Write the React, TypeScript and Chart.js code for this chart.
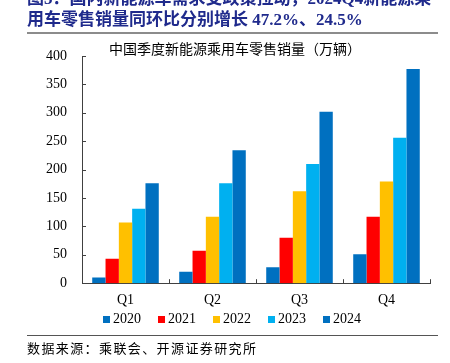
import React, { useEffect, useRef } from "react";
import { Chart, registerables } from "chart.js";

Chart.register(...registerables);

const quarters = ["Q1", "Q2", "Q3", "Q4"];
const years = ["2020", "2021", "2022", "2023", "2024"];
const sales2020 = [10, 20, 28, 51];
const sales2021 = [43, 57, 80, 117];
const sales2022 = [107, 117, 162, 179];
const sales2023 = [131, 176, 210, 256];
const sales2024 = [176, 234, 302, 377];
const seriesColors = ["#0070C0", "#FF0000", "#FFC000", "#00B0F0", "#0070C0"];
const yMin = 0;
const yMax = 400;
const yStep = 50;

const headingLine1 = "图3：国内新能源车需求受政策拉动，2024Q4新能源乘";
const headingLine2 = "用车零售销量同环比分别增长 47.2%、24.5%";
const chartTitle = "中国季度新能源乘用车零售销量（万辆）";
const sourceText = "数据来源：乘联会、开源证券研究所";

const SERIF = "'Liberation Serif', 'Times New Roman', serif";
const MIXED = "'Liberation Serif', 'Noto Sans CJK SC', sans-serif";
const NAVY = "#1f2a8c";

const innerTicks = {
  id: "innerTicks",
  afterDraw(chart: any) {
    const { ctx, chartArea, scales } = chart;
    const xs = scales.x;
    const ys = scales.y;
    ctx.save();
    ctx.strokeStyle = "#404040";
    ctx.lineWidth = 1;
    ctx.beginPath();
    ys.ticks.forEach((t: any) => {
      const py = Math.round(ys.getPixelForValue(t.value)) + 0.5;
      ctx.moveTo(chartArea.left, py);
      ctx.lineTo(chartArea.left + 4, py);
    });
    const n = xs.ticks.length;
    for (let i = 1; i <= n; i++) {
      const px = Math.round(xs.getPixelForValue(i - 0.5)) + 0.5;
      ctx.moveTo(px, chartArea.bottom);
      ctx.lineTo(px, chartArea.bottom - 4);
    }
    ctx.stroke();
    ctx.restore();
  },
};

export default function App() {
  const canvasRef = useRef<HTMLCanvasElement | null>(null);

  useEffect(() => {
    const seriesValues = [sales2020, sales2021, sales2022, sales2023, sales2024];
    const chart = new Chart(canvasRef.current as HTMLCanvasElement, {
      type: "bar",
      data: {
        labels: quarters,
        datasets: years.map((y, i) => ({
          label: y,
          data: seriesValues[i],
          backgroundColor: seriesColors[i],
          borderWidth: 0,
          barPercentage: 1,
          categoryPercentage: 0.765,
        })),
      },
      options: {
        animation: false,
        responsive: false,
        maintainAspectRatio: false,
        layout: { padding: { left: 31, right: 20, top: 56, bottom: 3 } },
        plugins: {
          title: { display: false },
          tooltip: { enabled: false },
          legend: { display: false },
        },
        scales: {
          x: {
            offset: true,
            grid: { display: false, drawTicks: false },
            border: { display: true, color: "#404040", width: 1 },
            ticks: {
              color: "#000",
              padding: 9,
              font: { family: SERIF, size: 14 },
            },
          },
          y: {
            min: yMin,
            max: yMax,
            grid: { display: false, drawTicks: false },
            border: { display: true, color: "#404040", width: 1 },
            ticks: {
              stepSize: yStep,
              color: "#000",
              padding: 15,
              font: { family: SERIF, size: 14 },
            },
          },
        },
      },
      plugins: [innerTicks],
    } as any);
    return () => chart.destroy();
  }, []);

  return (
    <div
      style={{
        position: "fixed",
        left: 0,
        top: 0,
        width: 450,
        height: 363,
        overflow: "hidden",
        background: "#fff",
      }}
    >
      <canvas
        ref={canvasRef}
        width={450}
        height={321}
        style={{ position: "absolute", left: 0, top: 0, width: 450, height: 321 }}
      />
      <div
        style={{
          position: "absolute",
          left: 27,
          top: -12,
          whiteSpace: "nowrap",
          fontFamily: MIXED,
          fontWeight: 700,
          fontSize: 17,
          lineHeight: "21px",
          color: NAVY,
        }}
      >
        <div>{headingLine1}</div>
        <div>{headingLine2}</div>
      </div>
      <div
        style={{
          position: "absolute",
          left: 27,
          top: 32,
          width: 411,
          height: 2,
          background: "#8c8c8c",
        }}
      />
      <div
        style={{
          position: "absolute",
          left: 0,
          width: 470,
          top: 41,
          textAlign: "center",
          whiteSpace: "nowrap",
          fontFamily: MIXED,
          fontSize: 14,
          lineHeight: "18px",
          color: "#000",
        }}
      >
        {chartTitle}
      </div>
      <div
        style={{
          position: "absolute",
          left: 103,
          top: 310,
          height: 18,
          display: "flex",
          alignItems: "center",
          gap: 17,
          whiteSpace: "nowrap",
          fontFamily: SERIF,
          fontSize: 14,
          color: "#000",
        }}
      >
        {years.map((y, i) => (
          <div key={y} style={{ display: "flex", alignItems: "center" }}>
            <span
              style={{
                display: "inline-block",
                width: 7,
                height: 7,
                background: seriesColors[i],
                marginRight: 3,
              }}
            />
            <span>{y}</span>
          </div>
        ))}
      </div>
      <div
        style={{
          position: "absolute",
          left: 27,
          top: 335,
          width: 411,
          height: 1,
          background: "#555",
        }}
      />
      <div
        style={{
          position: "absolute",
          left: 27,
          top: 340,
          whiteSpace: "nowrap",
          fontFamily: MIXED,
          fontSize: 13,
          letterSpacing: 1.4,
          lineHeight: "18px",
          color: "#000",
        }}
      >
        {sourceText}
      </div>
    </div>
  );
}
